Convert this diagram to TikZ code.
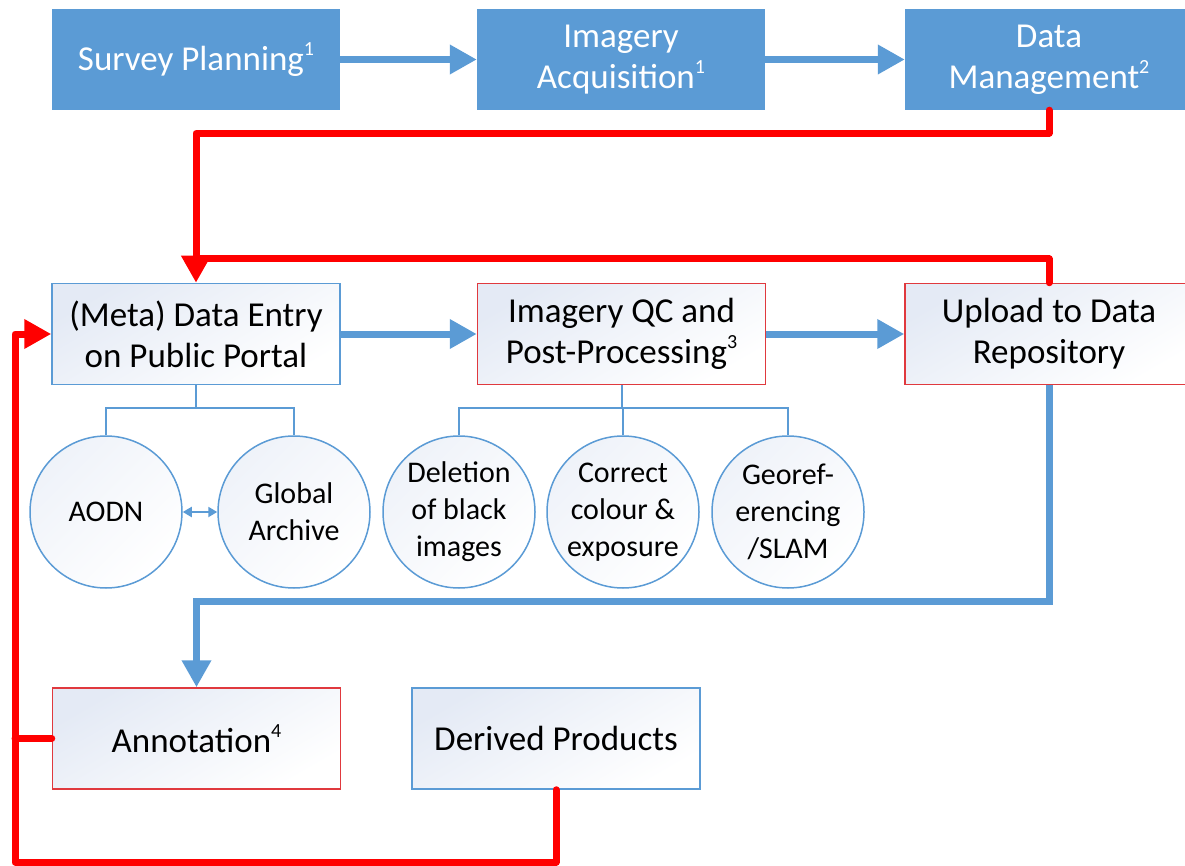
\documentclass[tikz,border=0pt]{standalone}
\usepackage{fontspec}
\setmainfont{Carlito}
\usetikzlibrary{arrows.meta}
\definecolor{bluem}{HTML}{5B9BD5}
\definecolor{redl}{HTML}{FF0000}
\definecolor{redb}{HTML}{E0393E}
\definecolor{shadec}{HTML}{E4EAF5}
\newcommand\supnum[1]{\raisebox{15pt}{\fontsize{20}{20}\selectfont #1}}
\tikzset{
 topbox/.style={rectangle, fill=bluem, text=white, minimum width=288pt, minimum height=101pt, align=center, font=\fontsize{35}{41}\selectfont, inner sep=0pt},
 midbox/.style={rectangle, draw=#1, line width=1.5pt, top color=shadec, bottom color=white, shading angle=30, minimum width=288pt, minimum height=101pt, align=center, font=\fontsize{35}{41}\selectfont, inner sep=0pt},
 circ/.style={circle, draw=bluem, line width=1.5pt, top color=shadec!60, bottom color=white, shading angle=45, minimum size=152pt, inner sep=0pt, align=center, font=\fontsize{30}{37}\selectfont},
 bflow/.style={draw=bluem, line width=7pt},
 rflow/.style={draw=redl, line width=7pt, line join=round, line cap=round},
 btip/.style={-{Triangle[width=28pt,length=27pt]}},
 tree/.style={draw=bluem, line width=2pt},
 dtip/.style={{Triangle[width=10pt,length=9pt]}-{Triangle[width=10pt,length=9pt]}},
}
\begin{document}
\begin{tikzpicture}[x=1pt,y=-1pt]
\useasboundingbox (0,0) rectangle (1185,866);
\clip (0,0) rectangle (1185,866);
% top row
\node[topbox] (sp) at (196,59.5) {Survey Planning\supnum{1}};
\node[topbox] (ia) at (621,59.5) {Imagery\\Acquisition\supnum{1}};
\node[topbox] (dm) at (1049,59.5) {Data\\Management\supnum{2}};
% middle row
\node[midbox=bluem] (meta) at (196,334) {(Meta) Data Entry\\on Public Portal};
\node[midbox=redb] (qc) at (621.5,334) {Imagery QC and\\Post-Processing\supnum{3}};
\node[midbox=redb] (up) at (1049,334) {Upload to Data\\Repository};
% circles
\node[circ] (c1) at (106,512) {AODN};
\node[circ] (c2) at (294,512) {Global\\Archive};
\node[circ] (c3) at (459,512) {Deletion\\of black\\images};
\node[circ] (c4) at (623,512) {Correct\\colour \&\\exposure};
\node[circ] (c5) at (788,512) {Georef-\\erencing\\/SLAM};
% bottom row
\node[midbox=redb] (ann) at (196.5,738.5) {Annotation\supnum{4}};
\node[midbox=bluem] (der) at (556,738.5) {Derived Products};
% coordinates
\coordinate (rj) at (196,259);
\coordinate (rb) at (15,862);
% blue flow
\draw[bflow, btip] (sp.east) -- (ia.west);
\draw[bflow, btip] (ia.east) -- (dm.west);
\draw[bflow, btip] (meta.east) -- (qc.west);
\draw[bflow, btip] (qc.east) -- (up.west);
\draw[bflow, btip] (up.south) -- ++(0,216) -| (ann.north);
% red flow
\draw[rflow, btip] (dm.south) -- ++(0,23) -| (meta.north);
\draw[rflow] (up.north) |- (rj);
\draw[rflow, btip] (der.south) |- (rb) |- (meta.west);
\draw[rflow] (ann.west) -- (ann.west -| rb);
% trees
\draw[tree] (meta.south) -- ++(0,23) coordinate (t1);
\draw[tree] (c1.north) |- (t1) -| (c2.north);
\draw[tree] (qc.south) -- ++(0,23) coordinate (t2);
\draw[tree] (c3.north) |- (t2) -| (c5.north);
\draw[tree] (c4.north) -- (c4.north |- t2);
\draw[tree, dtip] (c1.east) -- (c2.west);
\end{tikzpicture}
\end{document}
